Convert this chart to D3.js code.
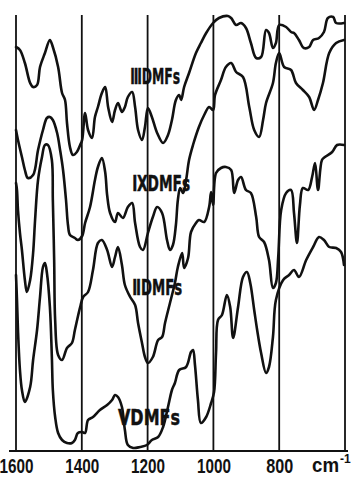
<!DOCTYPE html>
<html><head><meta charset="utf-8">
<script src="https://cdn.jsdelivr.net/npm/d3@7/dist/d3.min.js"></script>
<style>html,body{margin:0;padding:0;background:#fff;}svg{display:block;}</style>
</head><body>
<svg id="chart" width="352" height="477"></svg>
<script>
// ---- data (wavenumber in cm-1, relative transmittance in arbitrary units) ----
const gridWavenumbers = [1600, 1400, 1200, 1000, 800, 600];
const tickLabels = ["1600", "1400", "1200", "1000", "800"];
const seriesLabels = ["ⅢDMFs", "ⅨDMFs", "ⅡDMFs", "ⅤDMFs"];

const s1Wn  = [1600,1588,1573,1557,1548,1536,1527,1512,1497,1488,1472,1460,1451,1445,1436,1427,1415,1405,1399,1390,1381,1369,1360,1351,1339,1329,1320,1308,1299,1290,1278,1269,1260,1247,1238,1229,1217,1208,1199,1187,1171,1153,1138,1126,1114,1104,1098,1089,1074,1053,1038,1022,1001,983,956,946,931,916,901,886,870,855,840,831,819,810,800,779,764,755,740,725,709,697,679,664,652,636,627,603];
const s1Val = [404,401,388,368,364,366,384,398,411,404,384,358,351,328,304,296,299,306,311,338,321,313,334,344,358,364,344,329,341,348,339,344,354,359,344,321,311,324,343,334,318,308,316,331,351,356,351,364,378,398,408,418,428,433,435,433,426,428,423,408,393,394,421,418,403,408,426,424,419,418,411,403,404,411,413,419,433,434,428,428];

const s2Wn  = [1600,1594,1582,1573,1564,1548,1533,1518,1506,1497,1488,1475,1466,1457,1448,1442,1436,1421,1412,1399,1390,1375,1360,1351,1339,1329,1323,1314,1299,1290,1275,1260,1247,1238,1223,1214,1199,1184,1171,1156,1141,1132,1123,1114,1108,1101,1092,1083,1074,1062,1044,1028,1013,1001,995,977,962,946,931,910,891,876,861,849,840,819,810,800,785,764,749,728,709,694,682,667,648,627,603];
const s2Val = [321,311,294,281,273,276,301,321,333,334,331,318,301,281,251,226,216,213,211,215,228,244,271,284,293,279,256,238,229,238,233,244,248,228,204,201,218,234,244,238,211,201,206,226,251,263,258,271,291,306,324,336,344,341,356,371,384,388,379,374,344,321,314,331,348,368,388,398,384,381,368,361,354,341,351,368,398,408,411];

const s3Wn  = [1600,1597,1594,1588,1582,1573,1567,1557,1548,1542,1533,1521,1512,1503,1491,1488,1484,1481,1472,1460,1445,1430,1421,1405,1396,1381,1366,1351,1339,1323,1308,1299,1290,1278,1269,1253,1238,1229,1217,1208,1199,1184,1168,1156,1147,1132,1117,1108,1095,1089,1077,1068,1053,1044,1028,1013,1007,1001,992,977,962,946,937,925,916,901,886,870,861,846,831,819,810,803,794,779,764,755,746,737,728,712,700,691,682,670,661,639,624,603];
const s3Val = [268,261,241,218,201,171,159,171,198,231,271,294,306,306,291,251,191,131,96,91,103,108,121,144,154,159,181,208,211,201,184,194,204,186,166,154,146,128,108,94,88,94,111,114,128,148,168,184,198,183,193,219,228,231,229,244,259,246,278,283,284,281,258,271,274,261,258,234,214,209,191,163,168,194,241,258,261,238,208,246,263,261,274,288,261,291,294,299,306,306];

const s4Wn  = [1600,1597,1594,1588,1582,1573,1557,1548,1536,1527,1518,1512,1506,1497,1491,1488,1481,1472,1460,1445,1430,1421,1412,1399,1390,1381,1366,1345,1323,1308,1299,1290,1278,1269,1260,1244,1223,1202,1187,1168,1153,1138,1126,1117,1104,1083,1068,1062,1056,1047,1038,1022,1007,998,992,986,974,959,949,940,925,910,898,888,876,867,855,840,831,819,810,788,770,755,740,718,697,679,664,648,627,612,603];
const s4Val = [176,151,121,81,61,49,64,91,121,154,184,188,178,144,94,61,34,18,11,8,8,11,18,19,18,31,34,41,46,51,56,54,44,21,6,3,4,6,11,14,24,44,61,68,81,84,99,101,86,51,28,34,48,59,98,131,136,156,144,113,144,174,179,168,141,121,98,78,84,114,151,171,176,181,174,191,204,214,211,204,203,199,186];

const series = [
  {wn: s1Wn, val: s1Val},
  {wn: s2Wn, val: s2Val},
  {wn: s3Wn, val: s3Val},
  {wn: s4Wn, val: s4Val}
];

// ---- layout ----
const svg = d3.select("#chart");
const x = d3.scaleLinear().domain([1600, 600]).range([16, 345]);
const y = d3.scaleLinear().domain([0, 440]).range([451, 11]);

// vertical reference lines
svg.append("g").selectAll("line").data(gridWavenumbers).join("line")
  .attr("x1", d => x(d)).attr("x2", d => x(d))
  .attr("y1", y(436)).attr("y2", y(0))
  .attr("stroke", "#111").attr("stroke-width", 1.8);

// bottom axis
const axis = d3.axisBottom(x)
  .tickValues(tickLabels.map(Number))
  .tickFormat(d => String(d))
  .tickSize(0).tickPadding(6);
const gAxis = svg.append("g").attr("transform", `translate(0,${y(0)})`).call(axis);
gAxis.select(".domain").remove();
gAxis.selectAll("text")
  .attr("font-family", "Liberation Sans, Arial, sans-serif")
  .attr("font-size", 20).attr("font-weight", "bold").attr("fill", "#111")
  .attr("dy", "0.8em")
  .attr("textLength", d => String(d).length === 4 ? 34 : 27)
  .attr("lengthAdjust", "spacingAndGlyphs");
svg.append("line")
  .attr("x1", 9).attr("x2", 348).attr("y1", y(0)).attr("y2", y(0))
  .attr("stroke", "#111").attr("stroke-width", 2);
const unit = svg.append("text")
  .attr("x", 312).attr("y", 472)
  .attr("font-family", "Liberation Sans, Arial, sans-serif")
  .attr("font-size", 20).attr("font-weight", "bold").attr("fill", "#111");
unit.append("tspan").text("cm").attr("textLength", 27).attr("lengthAdjust", "spacingAndGlyphs");
unit.append("tspan").text("-1").attr("font-size", 12).attr("dy", -9).attr("dx", 1);

// spectra
const line = d3.line()
  .x(d => x(d[0])).y(d => y(d[1]))
  .curve(d3.curveCatmullRom.alpha(0.5));
svg.append("g").selectAll("path").data(series).join("path")
  .attr("d", s => line(s.wn.map((w, i) => [w, s.val[i]])))
  .attr("fill", "none").attr("stroke", "#111")
  .attr("stroke-width", 2.6).attr("stroke-linejoin", "round").attr("stroke-linecap", "round");

// series labels
const labelAnchors = [[1253, 367, 50], [1247, 260, 58], [1247, 156, 50], [1290, 26, 62]];
svg.append("g").selectAll("text").data(seriesLabels).join("text")
  .attr("x", (d, i) => x(labelAnchors[i][0]))
  .attr("y", (d, i) => y(labelAnchors[i][1]))
  .attr("textLength", (d, i) => labelAnchors[i][2])
  .attr("lengthAdjust", "spacingAndGlyphs")
  .attr("font-family", "DejaVu Sans, sans-serif")
  .attr("font-size", 22).attr("font-weight", "bold").attr("fill", "#111")
  .attr("stroke", "#111").attr("stroke-width", 0.5)
  .text(d => d);
</script>
</body></html>
